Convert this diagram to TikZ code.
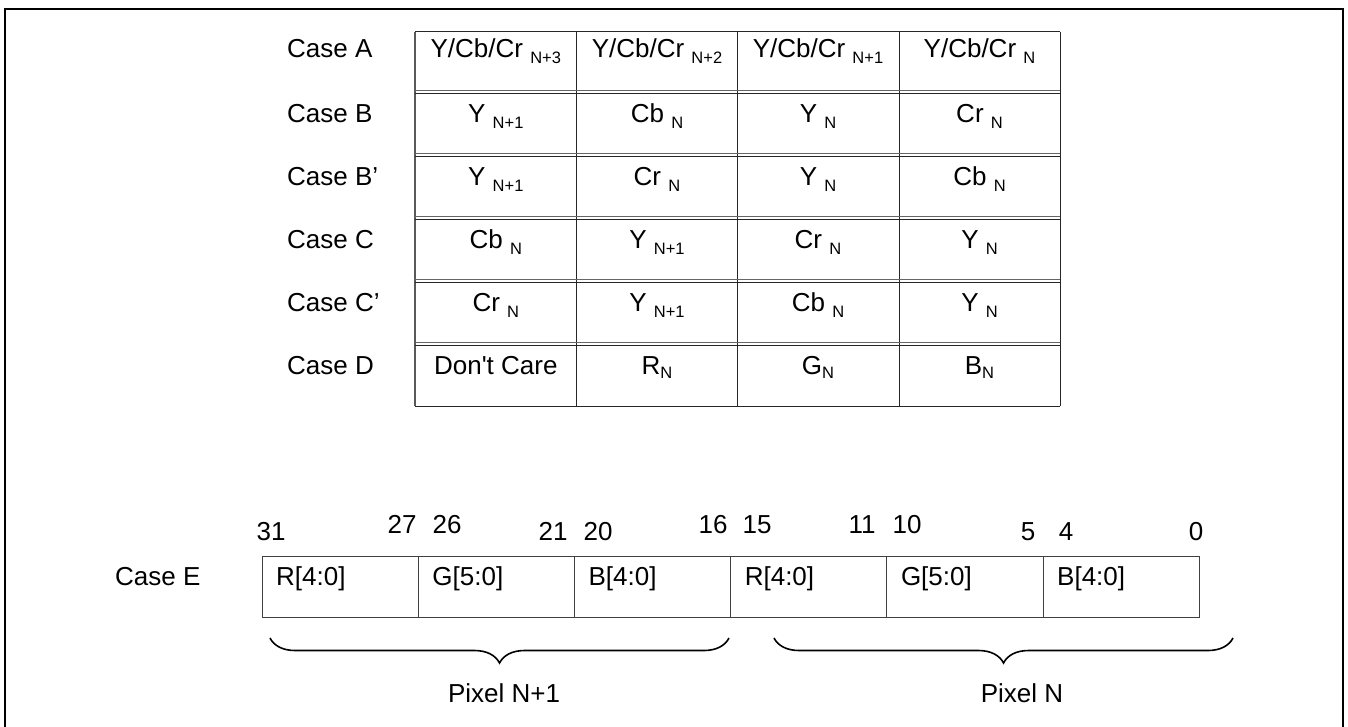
\documentclass[tikz,border=0pt]{standalone}
\usepackage{fontspec}
\setmainfont{Liberation Sans}
\usetikzlibrary{decorations.pathreplacing}
\newcommand{\subsp}[1]{\ \raisebox{-6pt}{\fontsize{16.5}{16.5}\selectfont #1}}
\newcommand{\subtight}[1]{\raisebox{-4pt}{\fontsize{16.5}{16.5}\selectfont #1}}
\begin{document}
\begin{tikzpicture}[x=1pt,y=-1pt,
  txt/.style={inner sep=0pt,font=\fontsize{26}{31}\selectfont,anchor=base},
  lbl/.style={txt,anchor=base west},
  grid/.style={line width=1pt,draw=black!85},
  frame/.style={line width=2.7pt},
  bracestyle/.style={decorate,decoration={brace,mirror,amplitude=25pt},line width=1.6pt}]
\useasboundingbox (0,0) rectangle (1348,726);
% outer frame
\draw[frame] (5,760) -- (5,9) -- (1343,9) -- (1343,760);
% table lines
\foreach \x in {576.7,737.3,899,1060} \draw[grid] (\x,31.7) -- (\x,406);
\draw[grid,draw=black!65,line width=1.6pt] (415,31.7) -- (415,406);
\draw[grid] (415,31.7) -- (1060,31.7);
\foreach \y in {90.7,153.3,216.7,279.3,342.7} {
  \draw[grid,draw=black!60] (415,\y) -- (1060,\y);
  \draw[grid] (415,\y+2.7) -- (1060,\y+2.7);
}
\draw[grid] (415,406) -- (1060,406);
% case labels
\node[lbl] (ca) at (287,57) {Case A};
\node[lbl] (cb) at (287,122.4) {Case B};
\node[lbl] (cbp) at (287,185) {Case B’};
\node[lbl] (cc) at (287,248.4) {Case C};
\node[lbl] (ccp) at (287,311) {Case C’};
\node[lbl] (cd) at (287,374.4) {Case D};
% row A
\node[txt] (a1) at (495.8,57) {Y/Cb/Cr\subsp{N+3}};
\node[txt] (a2) at (657,57) {Y/Cb/Cr\subsp{N+2}};
\node[txt] (a3) at (818,57) {Y/Cb/Cr\subsp{N+1}};
\node[txt] (a4) at (979.5,57) {Y/Cb/Cr\subsp{N}};
% row B
\node[txt] (b1) at (495.8,122.4) {Y\subsp{N+1}};
\node[txt] (b2) at (657,122.4) {Cb\subsp{N}};
\node[txt] (b3) at (818,122.4) {Y\subsp{N}};
\node[txt] (b4) at (979.5,122.4) {Cr\subsp{N}};
% row B'
\node[txt] (bp1) at (495.8,185) {Y\subsp{N+1}};
\node[txt] (bp2) at (657,185) {Cr\subsp{N}};
\node[txt] (bp3) at (818,185) {Y\subsp{N}};
\node[txt] (bp4) at (979.5,185) {Cb\subsp{N}};
% row C
\node[txt] (c1) at (495.8,248.4) {Cb\subsp{N}};
\node[txt] (c2) at (657,248.4) {Y\subsp{N+1}};
\node[txt] (c3) at (818,248.4) {Cr\subsp{N}};
\node[txt] (c4) at (979.5,248.4) {Y\subsp{N}};
% row C'
\node[txt] (cp1) at (495.8,311) {Cr\subsp{N}};
\node[txt] (cp2) at (657,311) {Y\subsp{N+1}};
\node[txt] (cp3) at (818,311) {Cb\subsp{N}};
\node[txt] (cp4) at (979.5,311) {Y\subsp{N}};
% row D
\node[txt] (d1) at (495.8,374.4) {Don\textquotesingle t Care};
\node[txt] (d2) at (657,374.4) {R\subtight{N}};
\node[txt] (d3) at (818,374.4) {G\subtight{N}};
\node[txt] (d4) at (979.5,374.4) {B\subtight{N}};
% Case E
\node[lbl] (ce) at (115,585) {Case E};
\draw[grid,draw=black!75] (262,556) rectangle (1199.2,617);
\foreach \x in {418.2,574.4,730.6,886.8,1043} \draw[grid,draw=black!75] (\x,556) -- (\x,617);
\node[lbl] (f1) at (276,585) {R[4:0]};
\node[lbl] (f2) at (432.2,585) {G[5:0]};
\node[lbl] (f3) at (588.4,585) {B[4:0]};
\node[lbl] (f4) at (744.6,585) {R[4:0]};
\node[lbl] (f5) at (900.8,585) {G[5:0]};
\node[lbl] (f6) at (1057,585) {B[4:0]};
% bit numbers
\node[txt] (n31) at (271,540) {31};
\node[txt] (n27) at (402,533) {27};
\node[txt] (n26) at (447,533) {26};
\node[txt] (n21) at (553,540) {21};
\node[txt] (n20) at (598,540) {20};
\node[txt] (n16) at (713,533) {16};
\node[txt] (n15) at (757,533) {15};
\node[txt] (n11) at (862,533) {11};
\node[txt] (n10) at (907,533) {10};
\node[txt] (n5) at (1028,540) {5};
\node[txt] (n4) at (1066,540) {4};
\node[txt] (n0) at (1196,540) {0};
% braces
\coordinate (bl1) at (270,638);
\coordinate (br1) at (729,638);
\coordinate (bl2) at (774,638);
\coordinate (br2) at (1233,638);
\draw[bracestyle] (bl1) -- (br1);
\draw[bracestyle] (bl2) -- (br2);
\node[txt] (p1) at (504,702) {Pixel N+1};
\node[txt] (p0) at (1022,702) {Pixel N};
\end{tikzpicture}
\end{document}
